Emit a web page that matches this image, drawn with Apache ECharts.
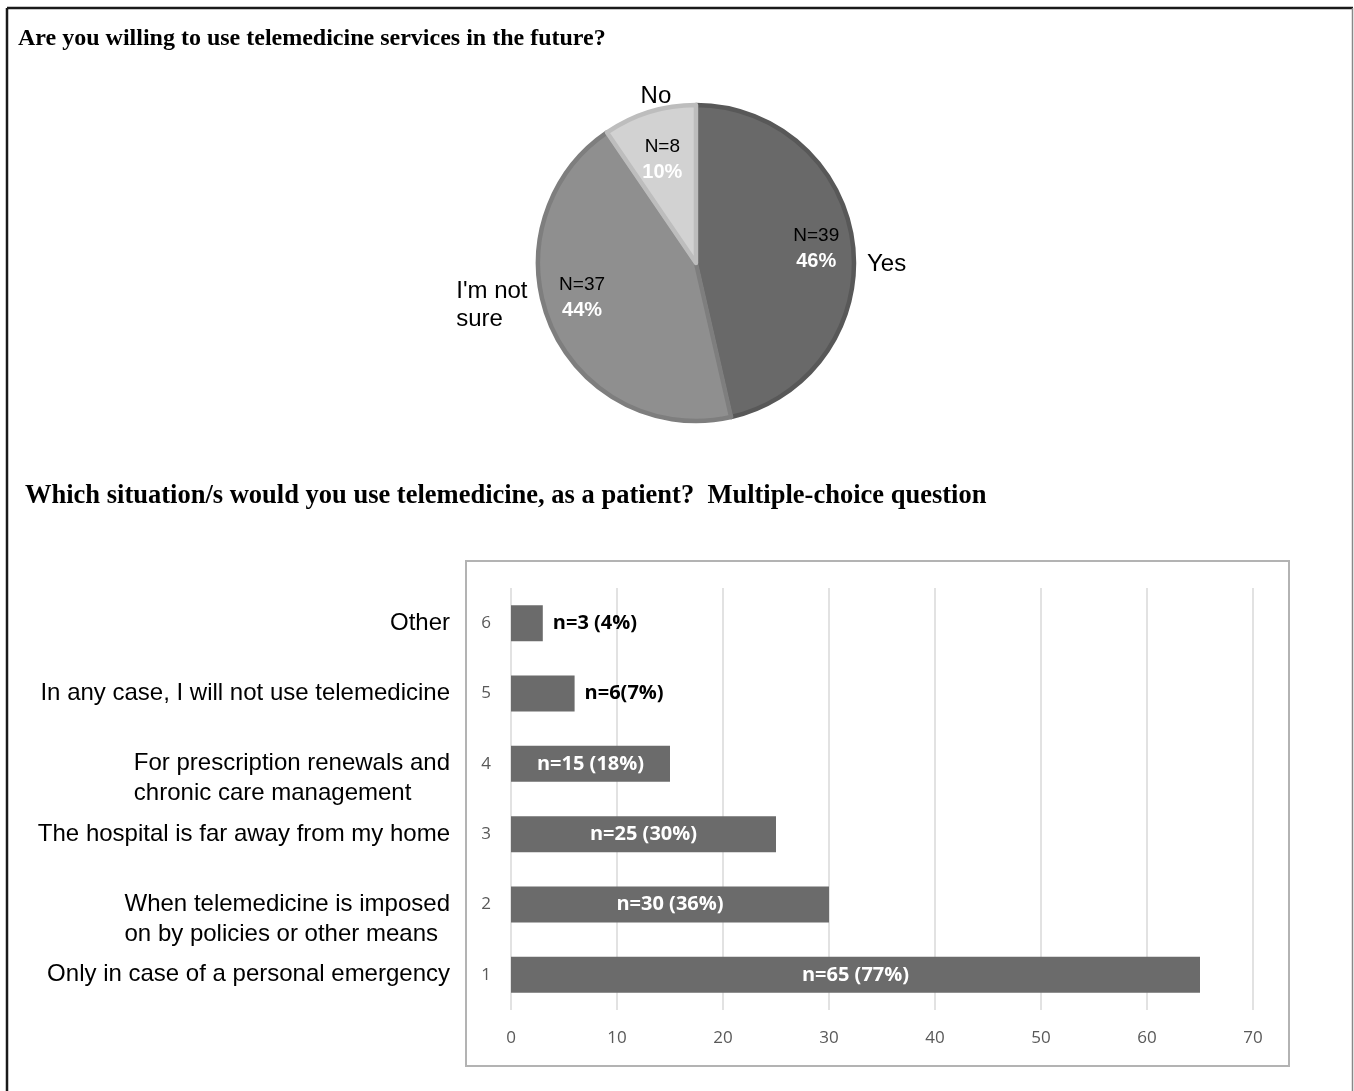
<!DOCTYPE html>
<html>
<head>
<meta charset="utf-8">
<script src="https://cdn.jsdelivr.net/npm/echarts@6/dist/echarts.min.js"></script>
<style>
  html, body { margin: 0; padding: 0; background: #ffffff; }
  #chart { width: 1354px; height: 1091px; }
</style>
</head>
<body>
<div id="chart"></div>
<script>
// Survey: willingness to use telemedicine
const pieNames = ['Yes', "I'm not\nsure", 'No'];
const pieCounts = [39, 37, 8];

// Survey: situations in which respondents would use telemedicine (multiple choice)
const rowNumbers = ['1', '2', '3', '4', '5', '6'];
const situationLabels = [
  'Only in case of a personal emergency',
  'When telemedicine is imposed\non by policies or other means',
  'The hospital is far away from my home',
  'For prescription renewals and\nchronic care management',
  'In any case, I will not use telemedicine',
  'Other'
];
const situationCounts = [65, 30, 25, 15, 6, 3];
const countLabels = ['n=65 (77%)', 'n=30 (36%)', 'n=25 (30%)', 'n=15 (18%)', 'n=6(7%)', 'n=3 (4%)'];

const titleTop = 'Are you willing to use telemedicine services in the future?';
const titleBottom = 'Which situation/s would you use telemedicine, as a patient?  Multiple-choice question';

// palette
const sliceFill = ['#696969', '#8f8f8f', '#d2d2d2'];
const sliceEdge = ['#585858', '#7e7e7e', '#bdbdbd'];
const barColor = '#6b6b6b';
const sansFont = '"Liberation Sans", Arial, sans-serif';
const serifFont = '"Liberation Serif", "Times New Roman", serif';
const axisFont = '"Open Sans", sans-serif';

// small nudges so the slice texts sit where they read best
const outerNudge = [[5, 20], [-15, -22], [28, -12]];
const innerNudge = [[0, -1], [-3, -14], [2, 12]];

const chart = echarts.init(document.getElementById('chart'), null, { renderer: 'canvas' });

const option = {
  backgroundColor: '#ffffff',
  animation: false,
  title: [
    { text: titleTop, left: 18, top: 27, padding: 0,
      textStyle: { fontFamily: serifFont, fontWeight: 'bold', fontSize: 24, color: '#000' } },
    { text: titleBottom, left: 25, top: 483, padding: 0,
      textStyle: { fontFamily: serifFont, fontWeight: 'bold', fontSize: 26.5, color: '#000' } }
  ],
  graphic: [
    // page frame
    { type: 'line', shape: { x1: 7, y1: 8, x2: 7, y2: 1091 }, style: { stroke: '#1a1a1a', lineWidth: 2.5 } },
    { type: 'line', shape: { x1: 7, y1: 8, x2: 1353, y2: 8 }, style: { stroke: '#1a1a1a', lineWidth: 2.5 } },
    { type: 'line', shape: { x1: 1352.5, y1: 8, x2: 1352.5, y2: 1091 }, style: { stroke: '#888', lineWidth: 1.5 } },
    // bar chart frame
    { type: 'rect', shape: { x: 466, y: 561, width: 823, height: 505 },
      style: { fill: 'none', stroke: '#b3b3b3', lineWidth: 2 }, z: -1 }
  ],
  grid: { left: 511, top: 588, width: 742, height: 422 },
  xAxis: {
    type: 'value', min: 0, max: 70, interval: 10,
    axisLine: { show: false }, axisTick: { show: false },
    splitLine: { lineStyle: { color: '#d9d9d9', width: 1.5 } },
    axisLabel: { margin: 20, fontFamily: axisFont, fontSize: 17, color: '#595959' }
  },
  yAxis: [
    {
      type: 'category', data: rowNumbers,
      axisLine: { show: false }, axisTick: { show: false },
      axisLabel: { margin: 20, fontFamily: axisFont, fontSize: 17, color: '#595959' }
    },
    {
      type: 'category', data: situationLabels, position: 'left', offset: 0,
      axisLine: { show: false }, axisTick: { show: false },
      axisLabel: {
        margin: 61,
        formatter: v => {
          const lines = v.split('\n').map(s => '{t|' + s + '}');
          return lines.length > 1 ? '{t| }\n' + lines.join('\n') : lines[0];
        },
        rich: { t: { align: 'left', fontFamily: sansFont, fontSize: 24, color: '#000', lineHeight: 30 } }
      }
    }
  ],
  series: [
    {
      type: 'pie',
      center: [696, 263],
      radius: 158,
      startAngle: 90,
      clockwise: true,
      avoidLabelOverlap: false,
      silent: true,
      data: pieNames.map((n, i) => ({
        name: n, value: pieCounts[i],
        itemStyle: { color: sliceFill[i], borderColor: sliceEdge[i], borderWidth: 4.5 }
      })),
      label: {
        show: true, position: 'outside',
        formatter: p => p.name.split('\n').map(s => '{n|' + s + '}').join('\n'),
        rich: { n: { align: 'left', fontFamily: sansFont, fontSize: 24, color: '#000', lineHeight: 28 } }
      },
      labelLine: { show: false, length: 4, length2: 0 },
      labelLayout: p => ({ dx: outerNudge[p.dataIndex][0], dy: outerNudge[p.dataIndex][1] })
    },
    {
      // count and share written inside each slice
      type: 'pie',
      center: [696, 263],
      radius: [0, 236],
      startAngle: 90,
      clockwise: true,
      silent: true,
      percentPrecision: 0,
      data: pieNames.map((n, i) => ({ name: n, value: pieCounts[i] })),
      itemStyle: { color: 'rgba(0,0,0,0)', borderWidth: 0 },
      label: {
        show: true, position: 'inside',
        formatter: p => '{c|N=' + p.value + '}\n{p|' + p.percent + '%}',
        rich: {
          c: { fontFamily: sansFont, fontSize: 19, color: '#000', lineHeight: 26, align: 'center' },
          p: { fontFamily: sansFont, fontSize: 20, fontWeight: 'bold', color: '#fff', lineHeight: 26, align: 'center' }
        }
      },
      labelLine: { show: false },
      labelLayout: p => ({ dx: innerNudge[p.dataIndex][0], dy: innerNudge[p.dataIndex][1] }),
      z: 3
    },
    {
      type: 'bar',
      xAxisIndex: 0, yAxisIndex: 0,
      barWidth: 36,
      itemStyle: { color: barColor },
      data: situationCounts.map(v => ({
        value: v,
        label: v >= 10 ? { position: 'inside', color: '#fff' } : { position: 'right', color: '#000', distance: 10 }
      })),
      label: {
        show: true,
        formatter: p => countLabels[p.dataIndex],
        fontFamily: axisFont, fontWeight: 'bold', fontSize: 20
      }
    }
  ]
};

chart.setOption(option);
</script>
</body>
</html>
